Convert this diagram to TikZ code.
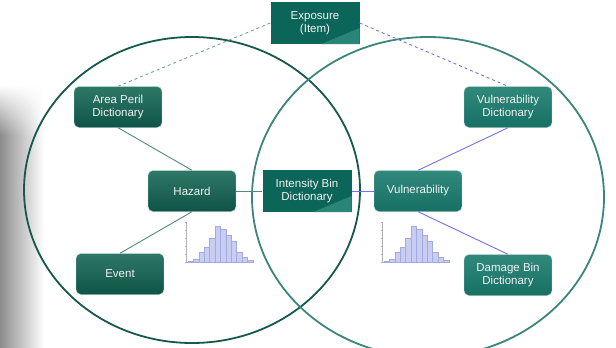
\documentclass[tikz,border=0pt]{standalone}
\usepackage{fontspec}
\setmainfont{Liberation Sans}
\usepackage{tikz}
\usetikzlibrary{fadings}
\definecolor{hazdark}{HTML}{0F5446}
\definecolor{hazlight}{HTML}{2E7868}
\definecolor{vuldark}{HTML}{167064}
\definecolor{vullight}{HTML}{31897C}
\definecolor{ringleft}{HTML}{16584C}
\definecolor{ringright}{HTML}{3C857C}
\definecolor{linkgreen}{HTML}{4F8A80}
\definecolor{linkblue}{HTML}{7272F0}
\definecolor{splitdark}{HTML}{0C6559}
\definecolor{splitlight}{HTML}{2A8579}
\definecolor{barfill}{HTML}{C9CDF2}
\definecolor{baredge}{HTML}{A3AAE2}
\newcommand{\histo}{%
  \draw[gray!60,line width=0.5pt] (0,-40) -- (0,0) -- (68,0);
  \foreach \t in {0,8,...,40} \draw[gray!60,line width=0.4pt] (0,-\t) -- ++(-1.5,0);
  \foreach \i/\h in {0/1,1/3,2/10,3/15,4/24,5/36,6/33,7/27,8/21,9/10,10/5,11/2}
    \filldraw[fill=barfill,draw=baredge,line width=0.4pt] (\i*5.4+2,0) rectangle ++(5.4,-\h);
}

\begin{document}
\begin{tikzpicture}[x=1pt,y=-1pt]
      \tikzstyle{every node}=[font=\fontsize{11.5}{13.5}\selectfont,text=white!90!gray,
                              align=center,inner sep=0pt]
      \tikzstyle{hazbox}=[rounded corners=5pt,minimum width=88pt,minimum height=41pt,
                          top color=hazlight,bottom color=hazdark,draw=white!70!hazdark,line width=0.4pt]
      \tikzstyle{vulbox}=[hazbox,top color=vullight,bottom color=vuldark]
      \tikzstyle{splitbox}=[minimum width=89pt,minimum height=42pt,fill=splitdark,
          path picture={\fill[splitlight] (path picture bounding box.south east)
             -- ([xshift=-38pt]path picture bounding box.south east)
             -- ([yshift=-26pt]path picture bounding box.north east) -- cycle;}]
      \useasboundingbox (0,0) rectangle (616,348);

      % grey edge on the left
      \shade[left color=black!45,right color=white] (0,135) rectangle (44,348);
      \shade[left color=black!45,right color=white,path fading=north] (0,85) rectangle (44,135.5);

      % the two sets
      \draw[ringleft,line width=1.8pt] (192,190) ellipse (168pt and 153pt);
      \draw[ringright,line width=1.8pt] (428,197) ellipse (176pt and 160pt);

      \node[splitbox] (exposure) at (315,23) {Exposure\\(Item)};
      \node[hazbox] (areaperil) at (118,107) {Area Peril\\Dictionary};
      \node[hazbox] (hazard) at (192,191) {Hazard};
      \node[hazbox] (event) at (120,274) {Event};
      \node[splitbox] (intensity) at (307,191) {Intensity Bin\\Dictionary};
      \node[vulbox] (vulnerability) at (418,191) {Vulnerability};
      \node[vulbox] (vulndict) at (508,107) {Vulnerability\\Dictionary};
      \node[vulbox] (damagebin) at (508,275) {Damage Bin\\Dictionary};

      \draw[linkgreen!80,dashed,line width=0.9pt] (exposure.west) -- (areaperil.north);
      \draw[linkblue,dashed,line width=0.9pt] (exposure.east) -- (vulndict.north);
      \draw[linkgreen,line width=0.9pt] (areaperil.south) -- (hazard.north);
      \draw[linkgreen,line width=0.9pt] (event.north) -- (hazard.south);
      \draw[linkgreen,line width=0.9pt] (hazard) -- (intensity);
      \draw[linkblue,line width=0.9pt] (intensity) -- (vulnerability);
      \draw[linkblue,line width=0.9pt] (vulnerability.north) -- (vulndict.south);
      \draw[linkblue,line width=0.9pt] (vulnerability.south) -- (damagebin.north);

      % hazard and vulnerability histograms
      \begin{scope}[shift={(186,262)}] \histo \end{scope}
      \begin{scope}[shift={(382,262)}] \histo \end{scope}
  \end{tikzpicture}
\end{document}
